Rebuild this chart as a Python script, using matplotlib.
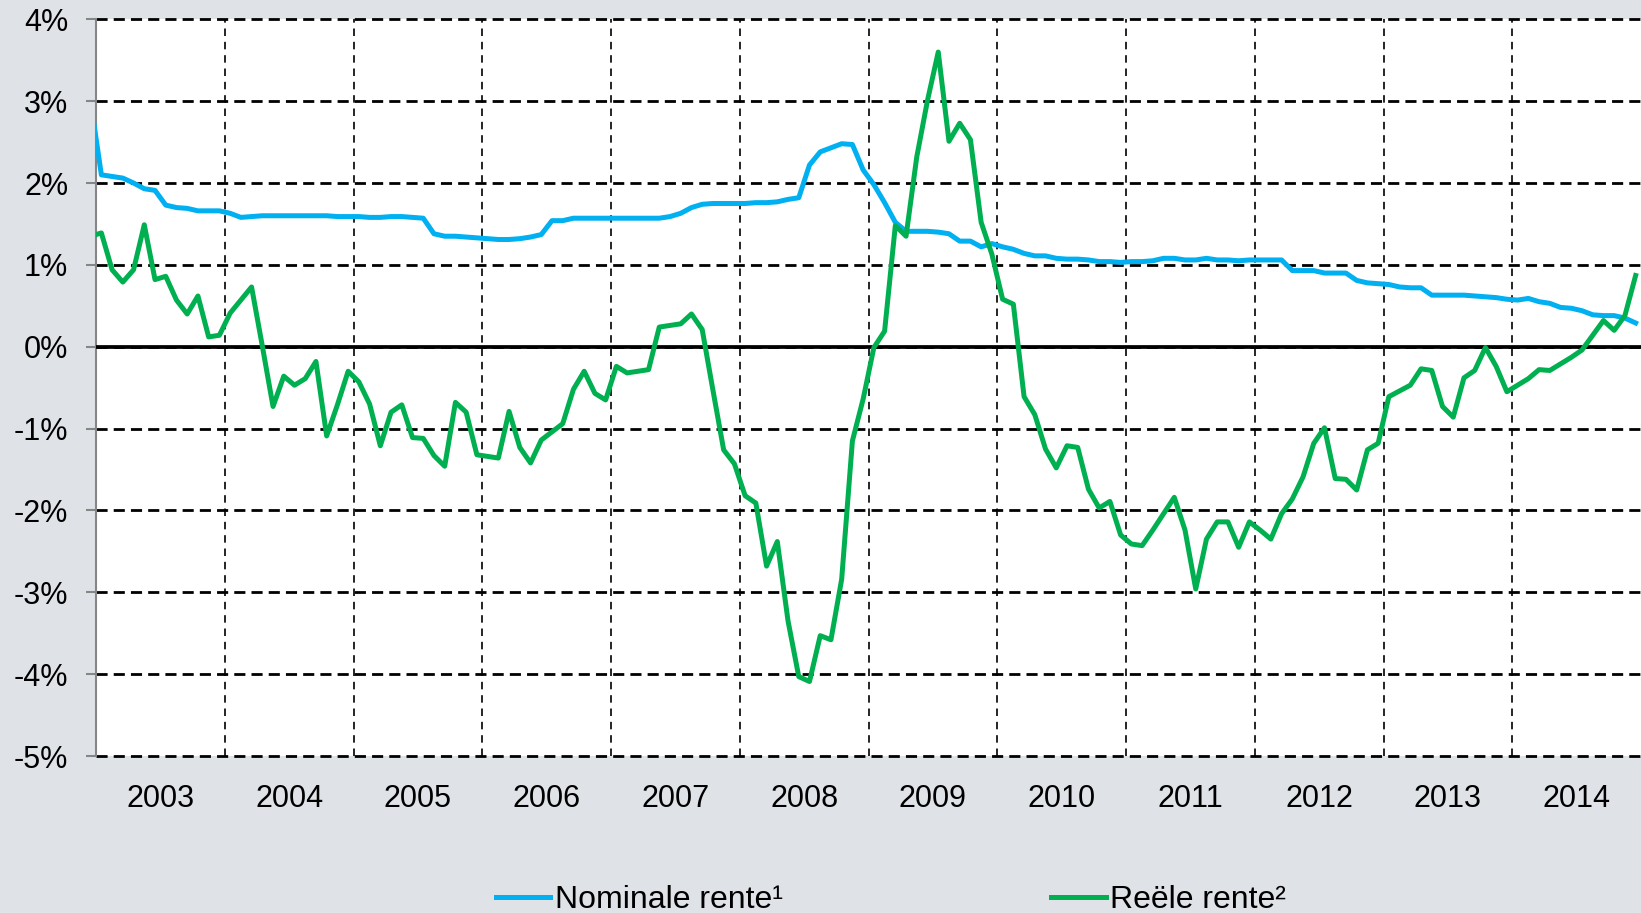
import matplotlib
matplotlib.use("Agg")
import matplotlib.pyplot as plt
import numpy as np

plt.rcParams['font.family'] = ['Liberation Sans', 'DejaVu Sans']
plt.rcParams['axes.unicode_minus'] = False

# monthly rates in %, from Dec 2002 up to Dec 2014
nominale = [
    3.00,
    2.10, 2.08, 2.06, 2.00, 1.93, 1.91, 1.73, 1.70, 1.69, 1.66, 1.66, 1.66,  # 2003
    1.63, 1.58, 1.59, 1.60, 1.60, 1.60, 1.60, 1.60, 1.60, 1.60, 1.59, 1.59,  # 2004
    1.59, 1.58, 1.58, 1.59, 1.59, 1.58, 1.57, 1.38, 1.35, 1.35, 1.34, 1.33,  # 2005
    1.32, 1.31, 1.31, 1.32, 1.34, 1.37, 1.54, 1.54, 1.57, 1.57, 1.57, 1.57,  # 2006
    1.57, 1.57, 1.57, 1.57, 1.57, 1.59, 1.63, 1.70, 1.74, 1.75, 1.75, 1.75,  # 2007
    1.75, 1.76, 1.76, 1.77, 1.80, 1.82, 2.22, 2.38, 2.43, 2.48, 2.47, 2.16,  # 2008
    1.98, 1.76, 1.52, 1.41, 1.41, 1.41, 1.40, 1.38, 1.29, 1.29, 1.22, 1.26,  # 2009
    1.22, 1.19, 1.14, 1.11, 1.11, 1.08, 1.07, 1.07, 1.06, 1.04, 1.04, 1.03,  # 2010
    1.04, 1.04, 1.05, 1.08, 1.08, 1.06, 1.06, 1.08, 1.06, 1.06, 1.05, 1.06,  # 2011
    1.06, 1.06, 1.06, 0.93, 0.93, 0.93, 0.90, 0.90, 0.90, 0.81, 0.78, 0.77,  # 2012
    0.76, 0.73, 0.72, 0.72, 0.63, 0.63, 0.63, 0.63, 0.62, 0.61, 0.60, 0.58,  # 2013
    0.57, 0.59, 0.55, 0.53, 0.48, 0.47, 0.44, 0.39, 0.38, 0.38, 0.35, 0.29,  # 2014
]
reele = [
    1.35,
    1.39, 0.94, 0.79, 0.94, 1.49, 0.82, 0.86, 0.57, 0.40, 0.62, 0.12, 0.14,
    0.41, 0.57, 0.73, 0.01, -0.73, -0.36, -0.47, -0.39, -0.18, -1.09, -0.71, -0.30,
    -0.43, -0.70, -1.21, -0.80, -0.71, -1.11, -1.12, -1.33, -1.46, -0.68, -0.80, -1.32,
    -1.34, -1.36, -0.79, -1.23, -1.42, -1.14, -1.04, -0.94, -0.52, -0.30, -0.57, -0.65,
    -0.24, -0.32, -0.30, -0.28, 0.24, 0.26, 0.28, 0.40, 0.21, -0.53, -1.26, -1.43,
    -1.82, -1.91, -2.68, -2.38, -3.35, -4.03, -4.09, -3.53, -3.58, -2.84, -1.15, -0.64,
    -0.01, 0.19, 1.48, 1.35, 2.32, 3.01, 3.60, 2.51, 2.73, 2.53, 1.52, 1.13,
    0.58, 0.52, -0.61, -0.83, -1.25, -1.48, -1.21, -1.23, -1.74, -1.97, -1.89, -2.30,
    -2.41, -2.43, -2.24, -2.04, -1.84, -2.24, -2.96, -2.35, -2.14, -2.14, -2.45, -2.14,
    -2.24, -2.35, -2.04, -1.86, -1.59, -1.18, -0.99, -1.61, -1.62, -1.75, -1.26, -1.18,
    -0.61, -0.54, -0.47, -0.27, -0.29, -0.73, -0.86, -0.38, -0.29, -0.01, -0.24, -0.55,
    -0.47, -0.39, -0.28, -0.29, -0.21, -0.13, -0.04, 0.14, 0.32, 0.20, 0.38, 0.87,
]
years = list(range(2003, 2015))
ytick_values = list(range(-5, 5))
ytick_labels = [f"{v}%" for v in ytick_values]

# mid-month positions, first value is December 2002
x = 2002 + 11.5 / 12 + np.arange(len(nominale)) / 12

fig = plt.figure(figsize=(16.41, 9.13), dpi=100, facecolor='#dfe2e7')
ax = fig.add_axes([96 / 1641, 1 - 756 / 913, 1 - 96 / 1641, (756 - 19.3) / 913])
ax.set_facecolor('white')

l1, = ax.plot(x, nominale, color='#00b0f0', lw=3.6, zorder=4, solid_joinstyle='round')
l2, = ax.plot(x, reele, color='#00b050', lw=3.6, zorder=5, solid_joinstyle='round')
ax.axhline(0, color='black', lw=2.7, zorder=3)

ax.set_xlim(2003, 2015)
ax.set_ylim(-5, 4)

ax.set_yticks(ytick_values)
ax.set_yticklabels(ytick_labels, fontsize=22)
ax.set_xticks([y + 0.5 for y in years])
ax.set_xticklabels([str(y) for y in years], fontsize=22)
ax.set_xticks(years[1:], minor=True)

ax.tick_params(axis='y', which='major', length=7, width=1.5, color='#868686', pad=13)
ax.tick_params(axis='x', which='both', length=0, pad=20)

ax.yaxis.grid(True, color='black', lw=2.0, dashes=(4, 2.2))
ax.xaxis.grid(True, which='minor', color='black', lw=1.2, dashes=(4.5, 3.5))
for gl in ax.get_ygridlines():
    gl.set_clip_on(False)
ax.set_axisbelow(True)

for side in ['top', 'right', 'bottom']:
    ax.spines[side].set_visible(False)
ax.spines['left'].set_color('#868686')
ax.spines['left'].set_linewidth(1.5)

fig.legend([l1, l2], ['Nominale rente¹', 'Reële rente²'], loc='center',
           bbox_to_anchor=(0.543, 0.014), ncol=2, frameon=False, fontsize=23,
           handlelength=1.7, handletextpad=0.15, columnspacing=8.4)

fig.savefig('out.png', dpi=100, facecolor=fig.get_facecolor())
